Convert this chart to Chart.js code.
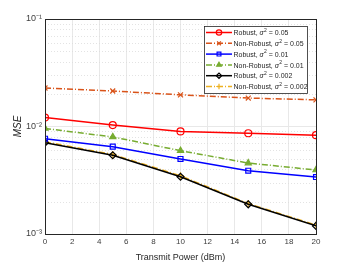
<!DOCTYPE html>
<html>
<head>
<meta charset="utf-8">
<script src="https://cdn.jsdelivr.net/npm/chart.js@4/dist/chart.umd.min.js"></script>
<style>
  html, body { margin: 0; padding: 0; background: #fff; }
  #wrap { width: 350px; height: 263px; }
</style>
</head>
<body>
<div id="wrap"><canvas id="mseChart" width="350" height="263"></canvas></div>
<script>
// data
const powerDbm = [0, 5, 10, 15, 20];
const robust005 = [0.0121, 0.0103, 0.0090, 0.00865, 0.0083];
const nonRobust005 = [0.0228, 0.0214, 0.0197, 0.0184, 0.0177];
const robust001 = [0.0077, 0.00649, 0.00499, 0.00388, 0.00339];
const nonRobust001 = [0.0096, 0.0080, 0.00596, 0.00457, 0.00394];
const robust0002 = [0.00707, 0.0054, 0.00341, 0.00189, 0.00119];
const nonRobust0002 = [0.0072, 0.0055, 0.00348, 0.00192, 0.00121];
const xTicks = [0, 2, 4, 6, 8, 10, 12, 14, 16, 18, 20];
const yMajor = [0.001, 0.01, 0.1];
const yLabels = ['10\u207B\u00B3', '10\u207B\u00B2', '10\u207B\u00B9'];
// legend text pieces: before sigma, value after "= "
const legendNames = ['Robust, ', 'Non-Robust, ', 'Robust, ', 'Non-Robust, ', 'Robust, ', 'Non-Robust, '];
const legendSigma = ['0.05', '0.05', '0.01', '0.01', '0.002', '0.002'];

const dashDot = [6, 2, 1, 2];

function series(i, data, color, style, dash, fill) {
    return {
        label: legendNames[i] + '\u03C3\u00B2 = ' + legendSigma[i],
        data: data.map((v, k) => ({ x: powerDbm[k], y: v })),
        borderColor: color,
        backgroundColor: fill || 'rgba(0,0,0,0)',
        borderWidth: 1.5,
        borderDash: dash || [],
        pointStyle: style,
        pointRadius: 3.5,
        pointBorderColor: color,
        pointBackgroundColor: fill || 'rgba(0,0,0,0)',
        pointBorderWidth: 1.2,
        fill: false
    };
}

const datasets = [
    series(0, robust005, '#ff0000', 'circle'),
    series(1, nonRobust005, '#d95319', 'crossRot', dashDot),
    series(2, robust001, '#0000ff', 'rect'),
    series(3, nonRobust001, '#77ac30', 'triangle', dashDot, '#77ac30'),
    series(4, robust0002, '#000000', 'rectRot'),
    series(5, nonRobust0002, '#edb120', 'cross', dashDot)
];

// minor log grid (dotted), box around plot, legend inside
const boxAndMinor = {
    id: 'boxAndMinor',
    beforeDatasetsDraw(chart) {
        const ctx = chart.ctx, a = chart.chartArea, ys = chart.scales.y;
        ctx.save();
        ctx.strokeStyle = '#dcdcdc';
        ctx.lineWidth = 0.8;
        ctx.setLineDash([1, 2]);
        [0.001, 0.01].forEach(d => {
            for (let k = 2; k <= 9; k++) {
                const py = Math.round(ys.getPixelForValue(d * k)) + 0.5;
                ctx.beginPath();
                ctx.moveTo(a.left, py);
                ctx.lineTo(a.right, py);
                ctx.stroke();
            }
        });
        ctx.restore();
    },
    afterDraw(chart) {
        const ctx = chart.ctx, a = chart.chartArea;
        ctx.save();
        ctx.strokeStyle = '#262626';
        ctx.lineWidth = 1;
        ctx.strokeRect(a.left + 0.5, a.top + 0.5, a.right - a.left, a.bottom - a.top);
        // legend box
        const lx = 204, ly = 26, lw = 103, lh = 67;
        ctx.fillStyle = '#fff';
        ctx.fillRect(lx, ly, lw, lh);
        ctx.strokeStyle = '#262626';
        ctx.lineWidth = 0.8;
        ctx.strokeRect(lx + 0.5, ly + 0.5, lw, lh);
        ctx.textBaseline = 'alphabetic';
        const fam = '"Liberation Sans", Arial, sans-serif';
        datasets.forEach((ds, i) => {
            const cy = ly + 6.5 + i * 10.8;
            ctx.strokeStyle = ds.borderColor;
            ctx.lineWidth = 1.5;
            ctx.setLineDash(ds.borderDash);
            ctx.beginPath();
            ctx.moveTo(lx + 2, cy);
            ctx.lineTo(lx + 28, cy);
            ctx.stroke();
            ctx.setLineDash([]);
            ctx.fillStyle = ds.pointBackgroundColor;
            ctx.strokeStyle = ds.borderColor;
            ctx.lineWidth = 1.2;
            Chart.helpers.drawPoint(ctx, { pointStyle: ds.pointStyle, radius: 2.7, rotation: 0, borderWidth: 1.2 }, lx + 15, cy);
            // text: name, italic sigma, superscript 2, value
            ctx.fillStyle = '#262626';
            let tx = lx + 29.5;
            const by = cy + 2.6;
            ctx.font = '7px ' + fam;
            ctx.fillText(legendNames[i], tx, by);
            tx += ctx.measureText(legendNames[i]).width;
            ctx.font = 'italic 7px ' + fam;
            ctx.fillText('\u03C3', tx, by);
            tx += ctx.measureText('\u03C3').width;
            ctx.font = '5px ' + fam;
            ctx.fillText('2', tx + 0.3, by - 3.3);
            tx += ctx.measureText('2').width + 0.3;
            ctx.font = '7px ' + fam;
            ctx.fillText(' = ' + legendSigma[i], tx, by);
        });
        ctx.restore();
    }
};

new Chart(document.getElementById('mseChart'), {
    type: 'line',
    data: { datasets: datasets },
    options: {
        responsive: false,
        animation: false,
        layout: { padding: { top: 19, right: 34, left: 0, bottom: 0 } },
        plugins: { legend: { display: false }, tooltip: { enabled: false } },
        scales: {
            x: {
                type: 'linear',
                min: 0,
                max: 20,
                afterBuildTicks: s => { s.ticks = xTicks.map(v => ({ value: v })); },
                afterFit: s => { s.height = 29; },
                ticks: { color: '#404040', font: { size: 8, family: 'Liberation Sans, Arial' }, padding: 3, maxRotation: 0 },
                grid: { color: '#e8e8e8', drawTicks: false },
                border: { display: false },
                title: { display: true, text: 'Transmit Power (dBm)', color: '#262626', font: { size: 9, family: 'Liberation Sans, Arial' }, padding: { top: 1, bottom: 0 } }
            },
            y: {
                type: 'logarithmic',
                min: 0.001,
                max: 0.1,
                afterBuildTicks: s => { s.ticks = yMajor.map(v => ({ value: v })); },
                afterFit: s => { s.width = 45; },
                ticks: {
                    color: '#404040',
                    font: { size: 9, family: 'Liberation Sans, Arial' },
                    padding: 3,
                    callback: (v) => { const i = yMajor.findIndex(m => Math.abs(m - v) < v * 1e-6); return i >= 0 ? yLabels[i] : ''; }
                },
                grid: { color: '#e8e8e8', drawTicks: false },
                border: { display: false },
                title: { display: true, text: 'MSE', color: '#262626', font: { size: 10, style: 'italic', family: 'Liberation Sans, Arial' }, padding: { top: 12, bottom: 0 } }
            }
        }
    },
    plugins: [boxAndMinor]
});
</script>
</body>
</html>
